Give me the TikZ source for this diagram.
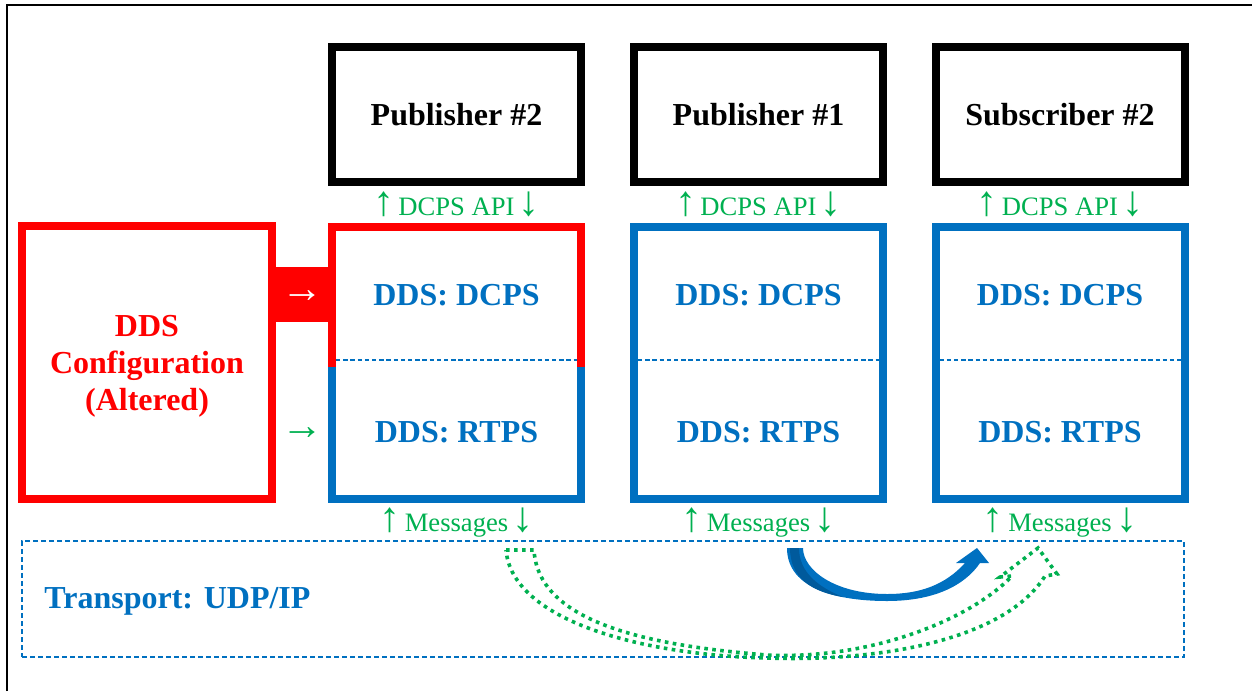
\documentclass[tikz,border=0pt]{standalone}
\usepackage{fontspec}
\setmainfont{Liberation Serif}
\definecolor{cfgred}{HTML}{FF0000}
\definecolor{ddsblue}{HTML}{0070C0}
\definecolor{apigreen}{HTML}{00B050}
\definecolor{shadeblue}{HTML}{005A9C}
% tall arrows used around interface names
\newcommand{\ifup}{{\fontsize{21}{21}\selectfont ↑}}
\newcommand{\ifdown}{{\fontsize{21}{21}\selectfont ↓}}

\begin{document}
\begin{tikzpicture}[x=0.5pt,y=-0.5pt,
  box/.style={draw, line width=4pt, inner sep=0pt, outer sep=0pt,
    minimum width=124.5pt, align=center,
    font=\bfseries\fontsize{16}{18.5}\selectfont},
  appbox/.style={box, draw=black, minimum height=67.5pt},
  ddsbox/.style={box, draw=ddsblue, minimum height=136pt},
  cfgbox/.style={box, draw=cfgred, minimum width=125pt, minimum height=136.5pt},
  cfgtext/.style={text=cfgred, align=center, inner sep=0pt,
    font=\bfseries\fontsize{16}{18.5}\selectfont},
  layer/.style={text=ddsblue, font=\bfseries\fontsize{16}{18.5}\selectfont},
  iface/.style={text=apigreen, font=\fontsize{13.3}{15}\selectfont},
  divider/.style={draw=ddsblue, line width=0.8pt, dash pattern=on 2.2pt off 1.4pt},
  transport/.style={draw=ddsblue, line width=1pt, dash pattern=on 2.4pt off 1.6pt,
    inner sep=0pt, outer sep=0pt, minimum width=581pt, minimum height=58pt},
  flowarrow/.style={font=\fontsize{21}{21}\selectfont},
  ghost/.style={draw=apigreen, line width=1.8pt, dash pattern=on 1.8pt off 2.2pt, line join=miter},
]
\useasboundingbox (0,0) rectangle (1252,691);

% frame
\draw[line width=0.8pt] (7,691) -- (7,5) -- (1252,5);

% applications
\node[appbox] (pub2) at (456.5,114.5) {Publisher \#2};
\node[appbox] (pub1) at (758.5,114.5) {Publisher \#1};
\node[appbox] (sub2) at (1060,114.5) {Subscriber \#2};

% DDS stacks
\node[ddsbox] (dds2) at (456.5,363) {};
\node[ddsbox] (dds1) at (758.5,363) {};
\node[ddsbox] (ddss) at (1060,363) {};

% altered configuration
\node[cfgbox] (cfg) at (147,362.5) {};
\node[cfgtext] (cfgname) at (cfg |- 0,366) {DDS\\Configuration\\(Altered)};

% altered part of the publisher #2 stack
\draw[cfgred, line width=4pt, line join=miter]
  (dds2.west |- 0,367) -- (dds2.north west) -- (dds2.north east) -- (dds2.east |- 0,367);

% layer dividers and names
\foreach \s in {dds2,dds1,ddss}{
  \draw[divider] ([xshift=2pt]\s.west |- 0,360) -- ([xshift=-2pt]\s.east |- 0,360);
}
\node[layer] (dcps2) at (dds2 |- 0,295) {DDS: DCPS};
\node[layer] (rtps2) at (dds2 |- 0,432) {DDS: RTPS};
\node[layer] (dcps1) at (dds1 |- 0,295) {DDS: DCPS};
\node[layer] (rtps1) at (dds1 |- 0,432) {DDS: RTPS};
\node[layer] (dcpss) at (ddss |- 0,295) {DDS: DCPS};
\node[layer] (rtpss) at (ddss |- 0,432) {DDS: RTPS};

% interfaces
\node[iface] (api2) at (pub2 |- 0,204) {\ifup\,DCPS API\,\ifdown};
\node[iface] (api1) at (pub1 |- 0,204) {\ifup\,DCPS API\,\ifdown};
\node[iface] (apis) at (sub2 |- 0,204) {\ifup\,DCPS API\,\ifdown};
\node[iface] (msg2) at (dds2 |- 0,523) {\ifup\,Messages\,\ifdown};
\node[iface] (msg1) at (dds1 |- 0,523) {\ifup\,Messages\,\ifdown};
\node[iface] (msgs) at (ddss |- 0,523) {\ifup\,Messages\,\ifdown};

% configuration links
\fill[cfgred] (cfg.east |- 0,267) rectangle (dds2.west |- 0,322);
\node[flowarrow, text=white] (cfgdcps) at (302,297) {→};
\node[flowarrow, text=apigreen] (cfgrtps) at (302,434) {→};

% transport
\node[transport] (udp) at (603,599) {};
\node[layer, anchor=west, inner sep=0pt] (udplabel) at (44,601) {Transport: UDP/IP};

% delivered messages: publisher #1 to subscriber #2
\fill[ddsblue]
  (787,548) .. controls (787,590) and (840,601) .. (887,601)
  .. controls (935,601) and (965,585) .. (980,563)
  -- (989,563) -- (977,548) -- (956,563) -- (965,563)
  .. controls (945,585) and (920,594) .. (887,594)
  .. controls (835,594) and (803,570) .. (803,548) -- cycle;
\fill[shadeblue]
  (790,548) .. controls (790,578) and (812,592) .. (843,597)
  .. controls (818,587) and (799,572) .. (799,548) -- cycle;

% injected messages: publisher #2 to subscriber #2
\draw[ghost]
  (506,550) -- (534,550)
  .. controls (538,620) and (640,645) .. (767,655)
  .. controls (870,660) and (970,620) .. (1012,576)
  -- (1000,577) -- (1038,548) -- (1057,574) -- (1045,576)
  .. controls (1005,640) and (880,662) .. (767,658)
  .. controls (640,655) and (512,620) .. (506,550) -- cycle;
\end{tikzpicture}
\end{document}
